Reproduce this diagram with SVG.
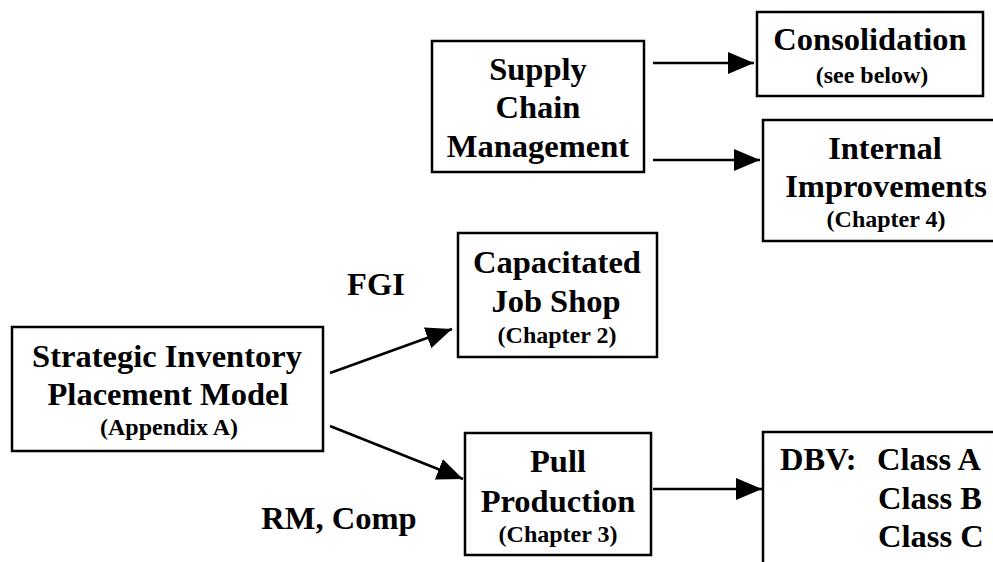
<svg xmlns="http://www.w3.org/2000/svg" width="993" height="562" viewBox="0 0 993 562">
<style>
.box{fill:#fff;stroke:#000;stroke-width:2.5}
.t{font-family:"Liberation Serif","Times New Roman",serif;font-weight:bold;font-size:32.5px;fill:#000;text-anchor:middle}
.s{font-size:24px}
.l{text-anchor:start}
.c{stroke:#000;stroke-width:2.5;fill:none;marker-end:url(#ah)}
</style>
<defs>
<marker id="ah" markerUnits="userSpaceOnUse" markerWidth="26" markerHeight="22" refX="26" refY="11" orient="auto" viewBox="0 0 26 22">
<path d="M0,0 L26,11 L0,22 z" fill="#000"/>
</marker>
</defs>
<rect width="993" height="562" fill="#fff"/>
<g id="connectors">
<line class="c" x1="653" y1="63" x2="754" y2="63"/>
<line class="c" x1="653" y1="160" x2="760" y2="160"/>
<line class="c" x1="330" y1="373" x2="452" y2="329"/>
<line class="c" x1="330" y1="426" x2="463" y2="479"/>
<line class="c" x1="653" y1="489" x2="762" y2="489"/>
</g>
<g id="supply">
<rect class="box" x="432" y="41" width="212" height="131"/>
<text class="t" x="538" y="80">Supply</text>
<text class="t" x="538" y="118">Chain</text>
<text class="t" x="538" y="157">Management</text>
</g>
<g id="consolidation">
<rect class="box" x="757" y="12" width="226" height="84"/>
<text class="t" x="870" y="50">Consolidation</text>
<text class="t s" x="872" y="83">(see below)</text>
</g>
<g id="internal">
<rect class="box" x="763" y="120" width="250" height="121"/>
<text class="t" x="885" y="159">Internal</text>
<text class="t" x="886" y="197">Improvements</text>
<text class="t s" x="886" y="227">(Chapter 4)</text>
</g>
<g id="capacitated">
<rect class="box" x="458" y="233" width="199" height="124"/>
<text class="t" x="557" y="273">Capacitated</text>
<text class="t" x="556" y="312">Job Shop</text>
<text class="t s" x="557" y="343">(Chapter 2)</text>
</g>
<g id="strategic">
<rect class="box" x="12" y="327" width="311" height="124"/>
<text class="t" x="167" y="367">Strategic Inventory</text>
<text class="t" x="168" y="405">Placement Model</text>
<text class="t s" x="169" y="435">(Appendix A)</text>
</g>
<g id="pull">
<rect class="box" x="465" y="433" width="186" height="122"/>
<text class="t" x="558" y="472">Pull</text>
<text class="t" x="558" y="512">Production</text>
<text class="t s" x="558" y="542">(Chapter 3)</text>
</g>
<g id="dbv">
<rect class="box" x="763" y="432" width="260" height="150"/>
<text class="t l" x="780" y="470">DBV:</text>
<text class="t l" x="877" y="470">Class A</text>
<text class="t l" x="878" y="509">Class B</text>
<text class="t l" x="878" y="547">Class C</text>
</g>
<g id="labels">
<text class="t" x="376" y="295">FGI</text>
<text class="t" x="339" y="529">RM, Comp</text>
</g>
</svg>
